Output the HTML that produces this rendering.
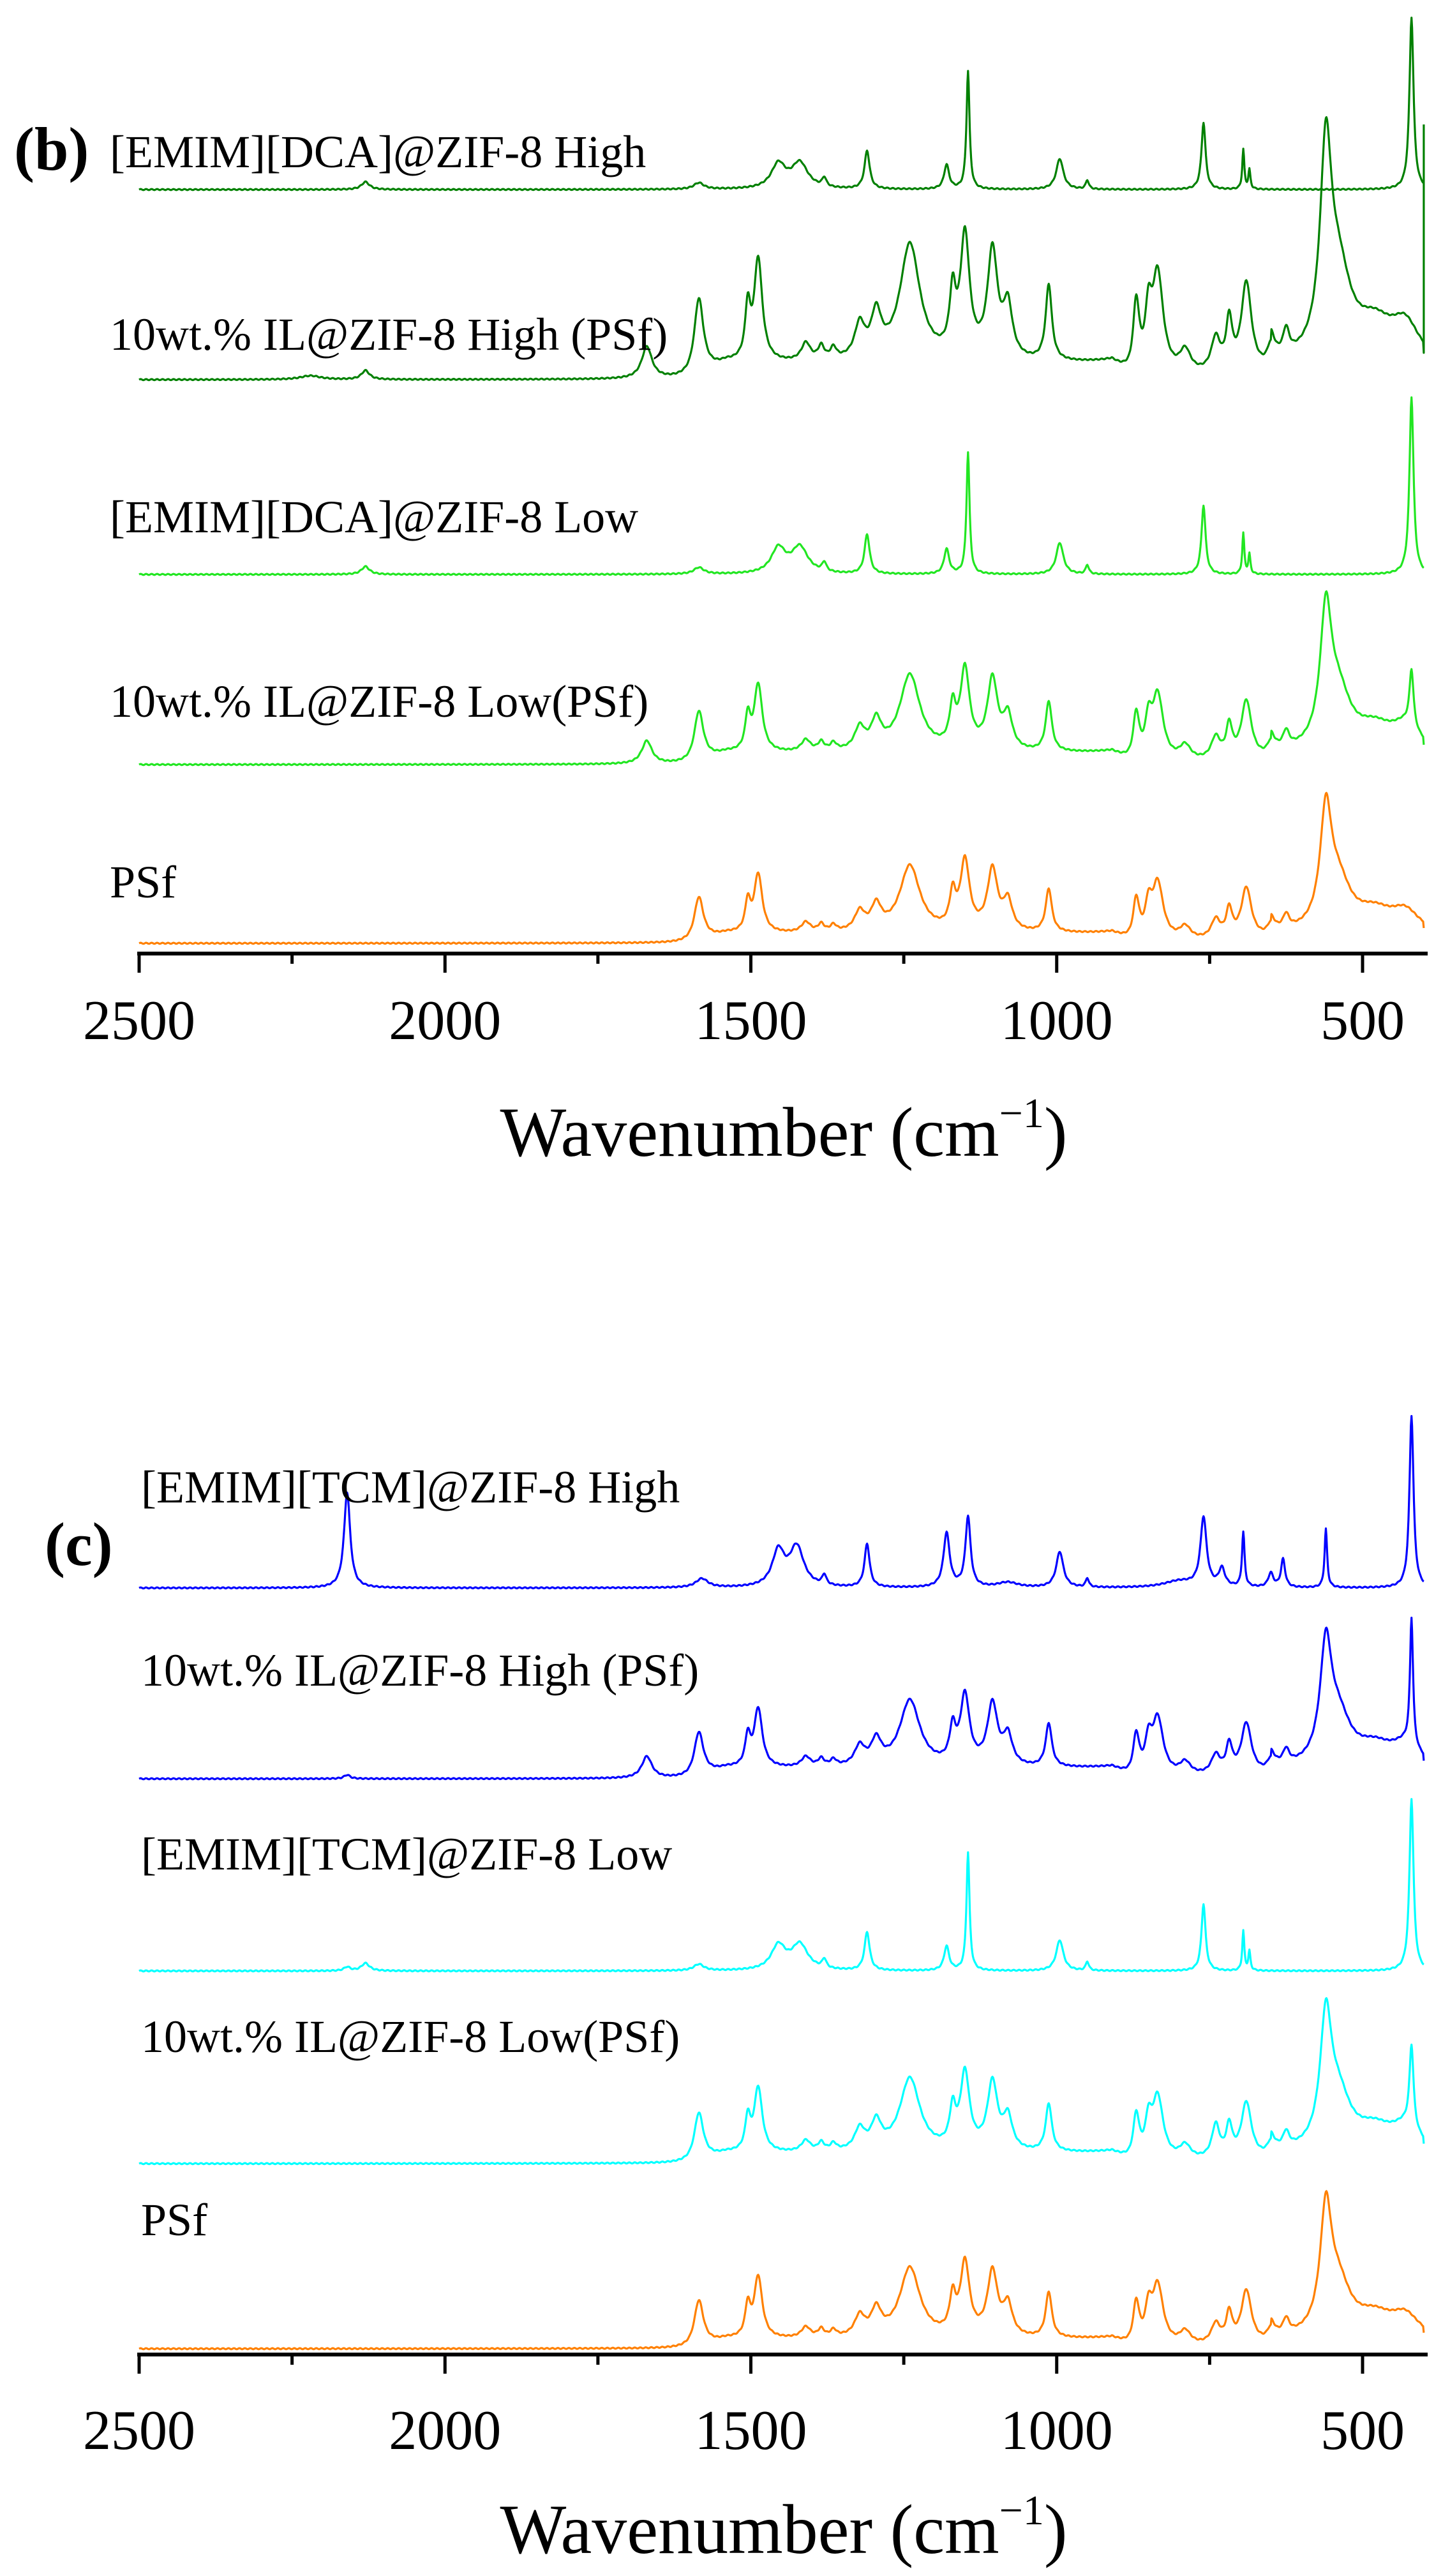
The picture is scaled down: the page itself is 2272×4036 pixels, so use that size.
<!DOCTYPE html>
<html><head><meta charset="utf-8">
<style>
html,body{margin:0;padding:0;background:#fff;}
svg{display:block;}
text{font-family:"Liberation Serif",serif;fill:#000;}
</style></head>
<body>
<svg id="s" width="2272" height="4036" viewBox="0 0 2272 4036" xmlns="http://www.w3.org/2000/svg">
<g id="axes" stroke="#000" stroke-width="6" fill="none">
<line x1="215" y1="1494" x2="2237" y2="1494"/>
<line x1="215" y1="3689" x2="2237" y2="3689"/>
</g>
<g id="ticks" stroke="#000" stroke-width="5"></g>
<g id="traces" fill="none" stroke-width="3.2" stroke-linejoin="round"></g>
<g font-size="72">
<text x="22" y="266" font-size="96" font-weight="bold">(b)</text>
<text x="172" y="262">[EMIM][DCA]@ZIF-8 High</text>
<text x="172" y="548">10wt.% IL@ZIF-8 High (PSf)</text>
<text x="172" y="834">[EMIM][DCA]@ZIF-8 Low</text>
<text x="172" y="1123">10wt.% IL@ZIF-8 Low(PSf)</text>
<text x="172" y="1406">PSf</text>
<text x="70" y="2452" font-size="96" font-weight="bold">(c)</text>
<text x="221" y="2354">[EMIM][TCM]@ZIF-8 High</text>
<text x="221" y="2641">10wt.% IL@ZIF-8 High (PSf)</text>
<text x="221" y="2929">[EMIM][TCM]@ZIF-8 Low</text>
<text x="221" y="3215">10wt.% IL@ZIF-8 Low(PSf)</text>
<text x="221" y="3502">PSf</text>
</g>
<g font-size="88" text-anchor="middle" id="labels"></g>
<text x="1228" y="1811" font-size="110" text-anchor="middle">Wavenumber (cm<tspan dy="-45" font-size="66">−1</tspan><tspan dy="45">)</tspan></text>
<text x="1228" y="4000" font-size="110" text-anchor="middle">Wavenumber (cm<tspan dy="-45" font-size="66">−1</tspan><tspan dy="45">)</tspan></text>
</svg>
<script>
var NS="http://www.w3.org/2000/svg";
function X(w){return 218+(2500-w)*0.9585;}
var tk=document.getElementById('ticks'),lb=document.getElementById('labels');
[[1494,1628],[3689,3837]].forEach(function(a){
 for(var w=2500;w>=500;w-=250){
  var l=document.createElementNS(NS,'line');var maj=(w%500==0);
  l.setAttribute('x1',X(w));l.setAttribute('x2',X(w));l.setAttribute('y1',a[0]);l.setAttribute('y2',a[0]+(maj?30:16));tk.appendChild(l);
  if(maj){var t=document.createElementNS(NS,'text');t.setAttribute('x',X(w));t.setAttribute('y',a[1]);t.textContent=w;lb.appendChild(t);}
 }
});
var PSF=[[1585,68,9],[1505,46,5],[1488,92,8],[1410,16,9],[1385,12,6],[1365,10,6],[1322,30,10],[1295,38,10],[1240,105,20],[1170,52,6],[1150,108,9],[1105,96,10],[1080,46,9],[1013,68,6],[870,62,6],[850,46,6],[835,90,11],[790,20,11],[740,30,9],[718,44,6],[690,80,10],[650,20,7],[625,22,6],[560,170,11],[540,75,25],[480,32,38],[430,32,28]];
function band(w){ // broad background under polymer
 var b=0;
 if(w<1600&&w>880){b+=14*Math.min(1,(1600-w)/60)*Math.min(1,(w-880)/30);}
 if(w<650&&w>400){b+=10;}
 return b;}
var DCA=[[2130,12,8],[1585,10,10],[1455,38,14],[1420,40,16],[1380,14,4],[1310,60,5],[1180,38,5],[1145,185,3],[995,48,7],[950,14,3],[760,105,4],[695,62,2],[685,30,2],[420,270,4]];
var TCM=[[2160,150,6],[1580,14,12],[1455,55,12],[1425,62,14],[1380,16,4],[1310,68,5],[1180,85,6],[1145,110,5],[1080,8,20],[995,56,7],[950,14,3],[800,10,30],[760,108,6],[730,28,6],[695,85,2.5],[650,22,5],[630,44,4],[560,92,2.5],[420,270,4]];
function sc(p,f){return p.map(function(q){return [q[0],q[1]*f,q[2]];});}
function path(peaks,base,col,extraEnd,bf){
 var d='';bf=bf||0;
 for(var w=2500;w>=400;w-=1){
  var y=0;for(var i=0;i<peaks.length;i++){var u=(w-peaks[i][0])/peaks[i][2];y+=peaks[i][1]/(1+u*u);}
  y+=Math.sin(w*0.7)*0.8+band(w)*bf;
  d+=(w==2500?'M':'L')+X(w).toFixed(1)+' '+(base-y).toFixed(1);
 }
 if(extraEnd){d+='L'+X(400).toFixed(1)+' '+(base-extraEnd).toFixed(1);}
 var p=document.createElementNS(NS,'path');p.setAttribute('d',d);p.setAttribute('stroke',col);
 document.getElementById('traces').appendChild(p);
}
var dg='#008000',lg='#22e622',or='#ff8000',bl='#0000ff',cy='#00ffff';
path(DCA,297,dg);
path(sc(PSF,1.75).concat([[1670,50,10],[2130,14,8],[2220,6,20]]),595,dg,400,1.7);
path(sc(DCA,1.03),900,lg);
path(sc(PSF,1.15).concat([[1670,36,10],[420,90,4]]),1198,lg,0,1.2);
path(PSF,1478,or,0,1);
path(TCM,2488,bl);
path(sc(PSF,1.0).concat([[1670,34,10],[420,200,3],[2160,6,6]]),2787,bl,0,1.1);
path(sc(DCA,1.0).concat([[2160,6,6]]),3088,cy);
path(sc(PSF,1.1).concat([[420,130,4],[740,20,6]]),3390,cy,0,1.1);
path(sc(PSF,1.05),3680,or,0,1);
</script>
</body></html>
